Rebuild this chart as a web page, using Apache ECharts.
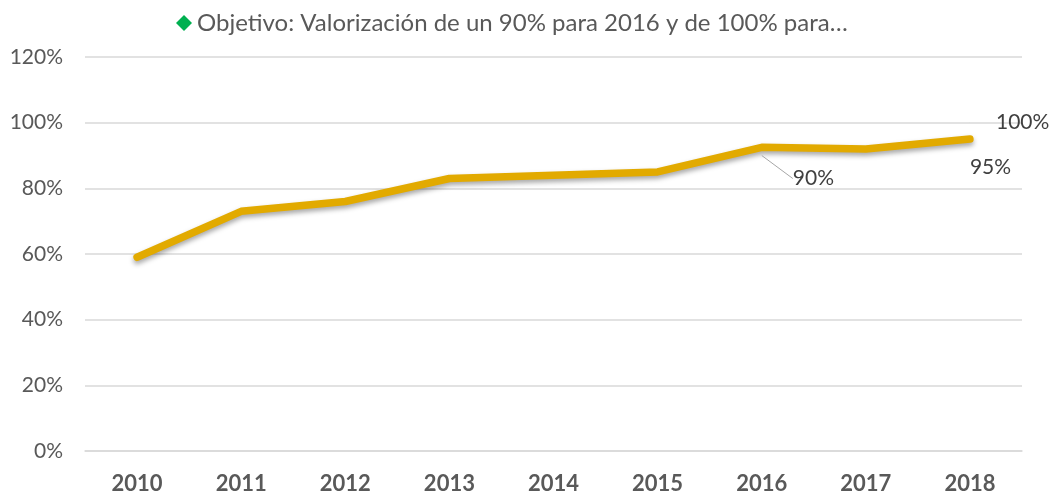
<!DOCTYPE html>
<html>
<head>
<meta charset="utf-8">
<script src="https://cdn.jsdelivr.net/npm/echarts@6/dist/echarts.min.js"></script>
<style>
  html, body { margin: 0; padding: 0; background: #fff; }
  #chart { width: 1054px; height: 503px; }
</style>
</head>
<body>
<div id="chart"></div>
<script>
const years = ['2010', '2011', '2012', '2013', '2014', '2015', '2016', '2017', '2018'];
const valorizacion = [59, 73, 76, 83, 84, 85, 92.5, 92, 95];
const objetivo = [null, null, null, null, null, null, 90, null, 100];
const yTicks = [0, 20, 40, 60, 80, 100, 120];

const font = 'Lato';
const grey = '#595959';
const objName = 'Objetivo: Valorización de un 90% para 2016 y de 100% para…';

// only the 2016 label is pulled away with a leader line
const objData = objetivo.map(function (v, i) {
    return {
        value: v,
        labelLine: { show: i === 6 }
    };
});

var option = {
    animation: false,
    textStyle: { fontFamily: font },
    legend: {
        data: [{ name: objName, icon: 'diamond' }],
        top: 6,
        left: 171,
        itemWidth: 16,
        itemHeight: 16,
        itemGap: 6,
        textStyle: { color: grey, fontSize: 24, fontFamily: font }
    },
    grid: {
        left: 85,
        right: 32,
        top: 57,
        bottom: 52
    },
    xAxis: {
        type: 'category',
        data: years,
        boundaryGap: true,
        axisLine: { lineStyle: { color: '#D9D9D9', width: 1.5 } },
        axisTick: { show: false },
        axisLabel: { color: grey, fontSize: 22, fontWeight: 'bold', margin: 22 }
    },
    yAxis: {
        type: 'value',
        min: yTicks[0],
        max: yTicks[yTicks.length - 1],
        interval: 20,
        axisLine: { show: false },
        axisTick: { show: false },
        splitLine: { lineStyle: { color: '#D9D9D9', width: 1.5 } },
        axisLabel: { color: grey, fontSize: 21, margin: 22, formatter: '{value}%' }
    },
    series: [{
        name: 'Valorización',
        type: 'line',
        data: valorizacion,
        symbol: 'none',
        lineStyle: {
            color: '#E2AA00',
            width: 7.5,
            cap: 'round',
            shadowColor: 'rgba(0,0,0,0.35)',
            shadowBlur: 5,
            shadowOffsetY: 3
        },
        itemStyle: { color: '#E2AA00' },
        endLabel: {
            show: true,
            formatter: '95%',
            color: '#404040',
            fontSize: 21,
            offset: [-8, 28]
        },
        z: 2
    }, {
        name: objName,
        type: 'scatter',
        data: objData,
        symbol: 'diamond',
        symbolSize: 0.1,
        itemStyle: { color: '#00B050', opacity: 1 },
        label: {
            show: true,
            position: 'right',
            distance: 26,
            color: '#404040',
            fontSize: 21,
            formatter: function (p) { return p.value + '%'; }
        },
        labelLayout: function (params) {
            if (params.dataIndex === 6) {
                return { dx: 5, dy: 23 };
            }
            return {};
        },
        labelLine: {
            lineStyle: { color: '#A6A6A6', width: 1 }
        },
        emphasis: { disabled: true },
        z: 3
    }]
};

var chart = echarts.init(document.getElementById('chart'));
chart.setOption(option);
</script>
</body>
</html>
